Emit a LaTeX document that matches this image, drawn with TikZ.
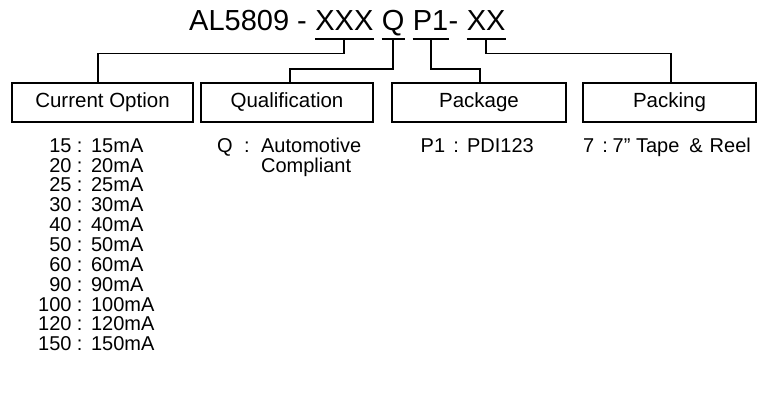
\documentclass[tikz,border=0pt]{standalone}
\usepackage{fontspec}
\setmainfont{Liberation Sans}
\begin{document}
\begin{tikzpicture}[x=1pt,y=-1pt,
  ttl/.style={inner sep=0pt,anchor=base west,font=\fontsize{29}{34}\selectfont},
  catbox/.style={draw,line width=1.8pt,minimum height=38.5pt,inner sep=0pt,font=\fontsize{20.5}{24}\selectfont},
  desc/.style={inner sep=0pt,anchor=base west,font=\fontsize{20}{19.6}\selectfont},
  wire/.style={line width=1.8pt},
  uline/.style={line width=1.8pt}]
\path[use as bounding box] (0,0) rectangle (759,416);

% title
\node[ttl] (t0) at (189,30.7) {AL5809 -};
\node[ttl] (t1) at ([xshift=8.06pt]t0.base east) {XXX};
\node[ttl] (t2) at ([xshift=8.06pt]t1.base east) {Q};
\node[ttl] (t3) at ([xshift=8.06pt]t2.base east) {P1};
\node[ttl] (t4) at (t3.base east) {-};
\node[ttl] (t5) at ([xshift=8.06pt]t4.base east) {XX};

% underlines
\draw[uline] ([yshift=-8.6pt]t1.base west) -- ([yshift=-8.6pt]t1.base east);
\draw[uline] ([yshift=-8.6pt]t2.base west) -- ([yshift=-8.6pt]t2.base east);
\draw[uline] ([yshift=-8.6pt]t3.base west) -- ([yshift=-8.6pt]t3.base east);
\draw[uline] ([yshift=-8.6pt]t5.base west) -- ([yshift=-8.6pt]t5.base east);
\coordinate (u1) at ([yshift=-8.6pt]t1.base);
\coordinate (u2) at ([yshift=-8.6pt]t2.base);
\coordinate (u3) at ([yshift=-8.6pt]t3.base);
\coordinate (u5) at ([yshift=-8.6pt]t5.base);

% category boxes
\node[catbox,minimum width=181pt] (c1) at (102.5,102.5) {Current Option};
\node[catbox,minimum width=172pt] (c2) at (287,102.5) {Qualification};
\node[catbox,minimum width=174pt] (c3) at (479,102.5) {Package};
\node[catbox,minimum width=173pt] (c4) at (669.5,102.5) {Packing};

% connectors
\draw[wire] (u1) -- ++(0,14.2) -| ([xshift=-4.5pt]c1.north);
\draw[wire] (u2) -- ++(0,29.7) -| ([xshift=3pt]c2.north);
\draw[wire] (u3) -- ++(0,30) -| ([xshift=1pt]c3.north);
\draw[wire] (u5) -- ++(0,14.2) -| ([xshift=1.5pt]c4.north);

% descriptions
\node[desc] (d1) at (38,152.3) {\begin{tabular}[t]{@{}r@{\hspace{5.3pt}:\hspace{8.7pt}}l@{}}
15&15mA\\20&20mA\\25&25mA\\30&30mA\\40&40mA\\50&50mA\\60&60mA\\90&90mA\\100&100mA\\120&120mA\\150&150mA
\end{tabular}};
\node[desc] (d2) at (217,152.3) {\begin{tabular}[t]{@{}l@{\hspace{11.4pt}}l@{\hspace{11.4pt}}l@{}}
Q&:&Automotive\\ &&Compliant
\end{tabular}};
\node[desc] (d3) at (420.5,152.3) {P1\hspace{8.3pt}:\hspace{8.1pt}PDI123};
\node[desc] (d4) at (583,152.3) {7\hspace{8.1pt}:\hspace{4.7pt}7” Tape\hspace{10pt}\&\hspace{7pt}Reel};
\end{tikzpicture}
\end{document}
